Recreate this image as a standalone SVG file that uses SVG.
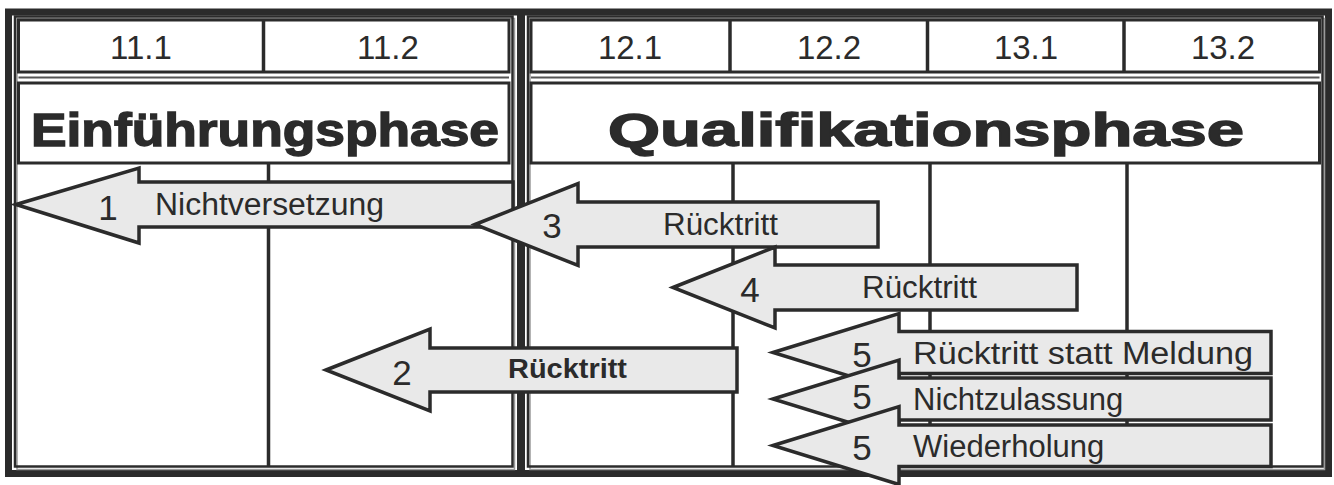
<svg xmlns="http://www.w3.org/2000/svg" width="1334" height="485" viewBox="0 0 1334 485">
<style>
.frame{fill:none;stroke:#2b2b2b}
.sh{fill:none;stroke:#9a9a9a;stroke-width:1.5}
.cell{fill:#fff;stroke:#2b2b2b;stroke-width:3}
.ln{stroke:#2b2b2b;stroke-width:3.5}
.arrow{fill:#e9e9e9;stroke:#2b2b2b;stroke-width:3.5;stroke-linejoin:miter;stroke-miterlimit:10}
text{font-family:"Liberation Sans",Arial,sans-serif;fill:#2b2b2b}
.hd{font-size:33px;text-anchor:middle}
.ph{font-size:46px;font-weight:bold;text-anchor:middle;stroke:#2b2b2b;stroke-width:1.4}
.num{font-size:35px;text-anchor:middle}
.lbl{font-size:31px}
</style>
<rect width="1334" height="485" fill="#fff"/>
<g id="frame">
  <rect class="frame" x="8.5" y="12" width="1320" height="461.5" stroke-width="7"/>
  <line class="frame" x1="521" y1="12" x2="521" y2="473" stroke-width="8"/>
  <rect class="sh" x="17" y="18.5" width="497.5" height="451"/>
  <rect class="frame" x="15" y="16.5" width="497.5" height="450" stroke-width="2.5"/>
  <rect class="sh" x="530" y="18.5" width="794.5" height="451"/>
  <rect class="frame" x="528" y="16.5" width="794.5" height="450" stroke-width="2.5"/>
</g>
<g id="einfuehrungsphase">
  <rect class="cell" x="18.5" y="20" width="490.5" height="52"/>
  <line class="ln" x1="263.5" y1="20" x2="263.5" y2="72"/>
  <line x1="18.5" y1="77.5" x2="509" y2="77.5" stroke="#555" stroke-width="1.8"/>
  <rect class="cell" x="18.5" y="83" width="490.5" height="80"/>
  <line class="ln" x1="268.5" y1="163" x2="268.5" y2="466"/>
  <text class="hd" x="141" y="59">11.1</text>
  <text class="hd" x="388" y="59">11.2</text>
  <text class="ph" x="265" y="146" textLength="468" lengthAdjust="spacingAndGlyphs">Einführungsphase</text>
</g>
<g id="qualifikationsphase">
  <rect class="cell" x="531" y="20" width="788.5" height="52"/>
  <line class="ln" x1="730" y1="20" x2="730" y2="72"/>
  <line class="ln" x1="927.5" y1="20" x2="927.5" y2="72"/>
  <line class="ln" x1="1124" y1="20" x2="1124" y2="72"/>
  <line x1="531" y1="77.5" x2="1319.5" y2="77.5" stroke="#555" stroke-width="1.8"/>
  <rect class="cell" x="531" y="83" width="788.5" height="80"/>
  <line class="ln" x1="733" y1="163" x2="733" y2="466"/>
  <line class="ln" x1="930" y1="163" x2="930" y2="466"/>
  <line class="ln" x1="1127" y1="163" x2="1127" y2="466"/>
  <text class="hd" x="630" y="59">12.1</text>
  <text class="hd" x="829" y="59">12.2</text>
  <text class="hd" x="1026" y="59">13.1</text>
  <text class="hd" x="1223" y="59">13.2</text>
  <text class="ph" x="926" y="146" textLength="636" lengthAdjust="spacingAndGlyphs">Qualifikationsphase</text>
</g>
<g id="connectors">
  <g id="arrow1">
    <path class="arrow" d="M16,204.5 L139,168 L139,182 L513,182 L513,227 L139,227 L139,243 Z"/>
    <text class="num" x="108" y="220">1</text>
    <text class="lbl" x="155" y="215" textLength="229" lengthAdjust="spacingAndGlyphs">Nichtversetzung</text>
  </g>
  <g id="arrow3">
    <path class="arrow" d="M475,224.5 L578,183.5 L578,202 L878,202 L878,247 L578,247 L578,265.5 Z"/>
    <text class="num" x="552" y="238">3</text>
    <text class="lbl" x="663" y="235" textLength="115" lengthAdjust="spacingAndGlyphs">Rücktritt</text>
  </g>
  <g id="arrow4">
    <path class="arrow" d="M673,287.5 L775,247 L775,265 L1077,265 L1077,310 L775,310 L775,328 Z"/>
    <text class="num" x="750" y="301.5">4</text>
    <text class="lbl" x="862" y="298" textLength="115" lengthAdjust="spacingAndGlyphs">Rücktritt</text>
  </g>
  <g id="arrow2">
    <path class="arrow" d="M326,370 L430,329 L430,348 L737,348 L737,392 L430,392 L430,411 Z"/>
    <text class="num" x="402" y="385">2</text>
    <text x="508" y="378" font-size="27" font-weight="bold" textLength="119" lengthAdjust="spacingAndGlyphs">Rücktritt</text>
  </g>
  <g id="arrow5a">
    <path class="arrow" d="M773,352.5 L899,313.5 L899,331.5 L1271,331.5 L1271,373.5 L899,373.5 L899,391.5 Z"/>
    <text class="num" x="862" y="366.5" font-size="32">5</text>
    <text class="lbl" x="913" y="364" textLength="340" lengthAdjust="spacingAndGlyphs">Rücktritt statt Meldung</text>
  </g>
  <g id="arrow5b">
    <path class="arrow" d="M773,399 L899,360 L899,378 L1271,378 L1271,420 L899,420 L899,438 Z"/>
    <text class="num" x="862" y="409" font-size="26">5</text>
    <text class="lbl" x="913" y="410" font-size="30">Nichtzulassung</text>
  </g>
  <g id="arrow5c">
    <path class="arrow" d="M773,445.5 L899,406.5 L899,425 L1271,425 L1271,466.5 L899,466.5 L899,484.5 Z"/>
    <text class="num" x="862" y="460" font-size="34">5</text>
    <text class="lbl" x="913" y="457">Wiederholung</text>
  </g>
</g>
</svg>
